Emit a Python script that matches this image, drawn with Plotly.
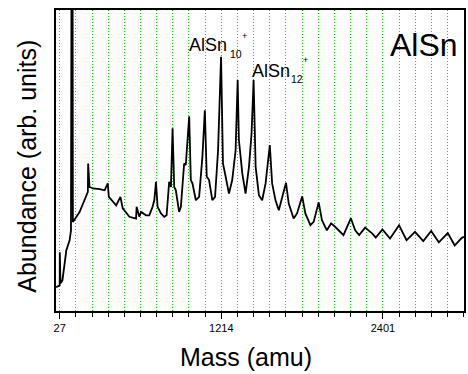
import plotly.graph_objects as go

# Mass spectrum trace (amu vs arbitrary abundance)
mass = [1, 12, 27, 28, 33, 47, 64, 76, 100, 110, 115, 121, 124, 173, 234, 236, 246, 271, 320, 357,
        380, 388, 442, 473, 490, 539, 588, 592, 612, 625, 661, 685, 709, 722, 734, 746, 771, 795,
        812, 831, 844, 856, 868, 880, 904, 917, 941, 953, 978, 990, 1002, 1027, 1051, 1075, 1093,
        1107, 1124, 1148, 1168, 1190, 1212, 1226, 1246, 1270, 1294, 1319, 1334, 1343, 1368, 1392,
        1417, 1436, 1451, 1466, 1490, 1514, 1539, 1570, 1587, 1612, 1636, 1660, 1689, 1709, 1745,
        1770, 1808, 1831, 1868, 1892, 1929, 1953, 1989, 2020, 2051, 2111, 2165, 2197, 2226, 2270,
        2323, 2348, 2397, 2453, 2519, 2574, 2636, 2697, 2755, 2811, 2877, 2928, 2982, 2996]
abundance = [7.9, 8.2, 8.5, 19.5, 9.2, 10.1, 16.8, 20.2, 23.5, 26.8, 140, 140, 29.6, 32.9, 39.6, 49.0,
             41.2, 40.7, 40.5, 40.1, 42.4, 37.9, 35.1, 37.9, 34.1, 31.3, 30.7, 34.6, 31.3, 32.9, 31.8,
             31.8, 34.6, 36.8, 42.9, 34.6, 32.4, 31.3, 31.8, 42.9, 41.2, 60.7, 41.2, 40.1, 32.9, 34.6,
             49.0, 48.5, 64.7, 43.5, 42.4, 36.8, 37.9, 51.2, 66.7, 44.6, 43.5, 36.8, 37.9, 53.4, 84.5,
             49.0, 44.6, 39.0, 43.5, 53.4, 76.7, 56.8, 45.7, 39.0, 47.9, 59.0, 76.7, 47.9, 38.5, 36.8,
             42.4, 55.1, 42.4, 36.8, 33.5, 37.9, 42.6, 35.7, 30.7, 32.4, 38.1, 32.4, 28.5, 29.6, 36.1,
             30.2, 26.8, 29.1, 27.9, 25.2, 30.8, 26.8, 25.2, 27.7, 25.7, 24.4, 27.1, 24.1, 28.5, 23.5,
             26.3, 23.2, 26.6, 22.8, 25.9, 21.8, 24.4, 24.6]

tick_vals = [27, 1214, 2401]
tick_text = ["27", "1214", "2401"]
sn_step = 118.7

FONT = "Liberation Sans, Arial, sans-serif"
W, H = 468, 374
ML, MR, MT, MB = 56, 2, 10, 63
PW, PH = W - ML - MR, H - MT - MB


def px(x):
    return (x - ML) / PW


def py(y):
    return (H - MB - y) / PH


fig = go.Figure()
fig.add_trace(go.Scatter(x=mass, y=abundance, mode="lines",
                         line=dict(color="black", width=1.8), hoverinfo="skip"))

grid = dict(showgrid=True, gridcolor="#00dd00", gridwidth=1, griddash="1px,2px")

fig.update_layout(
    width=W, height=H,
    margin=dict(l=ML, r=MR, t=MT, b=MB),
    paper_bgcolor="white", plot_bgcolor="white",
    showlegend=False,
    font=dict(family=FONT, color="black"),
    xaxis=dict(range=[0, 2996], tickmode="array", tickvals=tick_vals, ticktext=tick_text,
               ticks="outside", ticklen=6, tickwidth=1, tickcolor="black",
               tickfont=dict(size=11, family=FONT, color="black"),
               showline=True, linecolor="black", linewidth=1.6, mirror=True,
               zeroline=False,
               minor=dict(tickmode="linear", tick0=27, dtick=sn_step, ticks="outside",
                          ticklen=4, tickwidth=1, tickcolor="black", **grid),
               **grid),
    yaxis=dict(range=[0, 100], showticklabels=False, ticks="", showgrid=False, zeroline=False,
               showline=True, linecolor="black", linewidth=1.6, mirror=True),
)

ann = [
    dict(text="Abundance (arb. units)", x=px(26), y=py(166.5), textangle=-90, font=dict(size=25),
         xanchor="center", yanchor="middle"),
    dict(text="Mass (amu)", x=px(246.5), y=py(357), font=dict(size=25),
         xanchor="center", yanchor="middle"),
    dict(text="AlSn", x=px(188.3), y=py(44.8), font=dict(size=18), xanchor="left", yanchor="middle"),
    dict(text="10", x=px(230), y=py(53.7), font=dict(size=10.5), xanchor="left", yanchor="middle"),
    dict(text="+", x=px(245), y=py(36), font=dict(size=9), xanchor="center", yanchor="middle"),
    dict(text="AlSn", x=px(251.7), y=py(70.5), font=dict(size=18), xanchor="left", yanchor="middle"),
    dict(text="12", x=px(291), y=py(78.7), font=dict(size=10.5), xanchor="left", yanchor="middle"),
    dict(text="+", x=px(306.7), y=py(60), font=dict(size=9), xanchor="center", yanchor="middle"),
    dict(text="AlSn", x=px(390.7), y=py(44.6), font=dict(size=32), xanchor="left", yanchor="middle"),
]
for a in ann:
    a.update(xref="paper", yref="paper", showarrow=False, borderpad=0)
    a["font"].update(family=FONT, color="black")
fig.update_layout(annotations=ann)

fig.write_html("out.html", config={"displayModeBar": False},
               post_script="document.body.style.margin='0';document.body.style.overflow='hidden';")
